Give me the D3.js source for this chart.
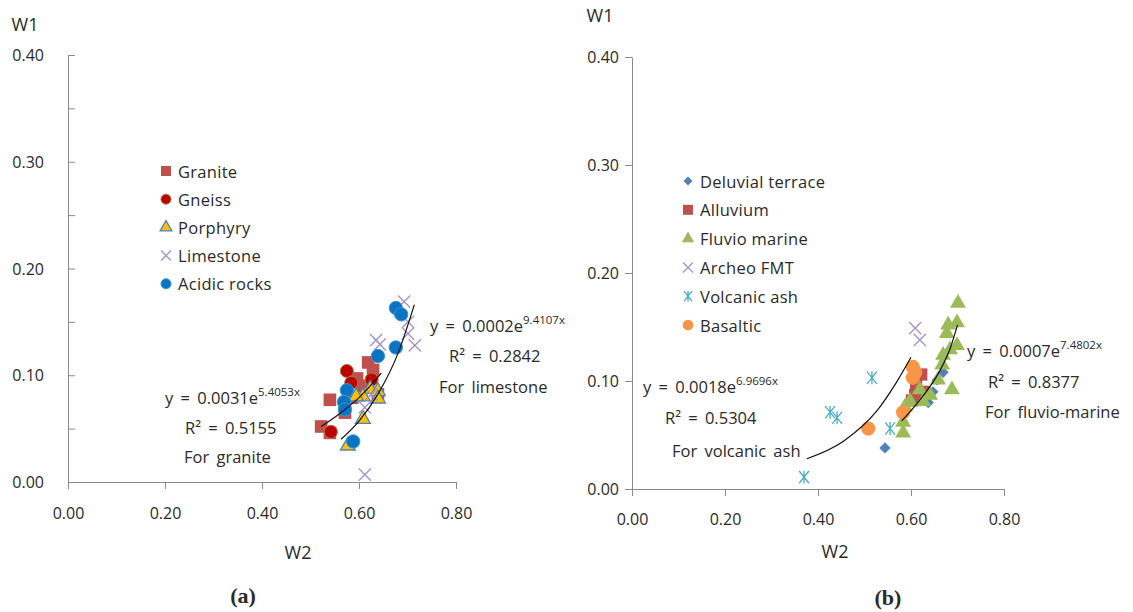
<!DOCTYPE html>
<html><head><meta charset="utf-8">
<script src="https://cdn.jsdelivr.net/npm/d3@7"></script>
<style>
body{margin:0;background:#fff}
text{font-family:"Open Sans",sans-serif;fill:#2a2a2a}
</style>
</head><body><svg id="c" width="1133" height="612"></svg>
<script>
// ---------- Panel (a) data ----------
const graniteData   = [[0.540,0.077],[0.522,0.052],[0.540,0.046],[0.596,0.097],[0.619,0.112],[0.629,0.105],[0.639,0.082],[0.571,0.065],[0.586,0.079],[0.605,0.090]];
const gneissData    = [[0.575,0.104],[0.584,0.093],[0.626,0.096],[0.542,0.047]];
const porphyryData  = [[0.623,0.087],[0.608,0.080],[0.639,0.085],[0.639,0.078],[0.608,0.059],[0.577,0.034],[0.594,0.080]];
const limestoneData = [[0.693,0.169],[0.701,0.150],[0.635,0.133],[0.643,0.129],[0.715,0.128],[0.701,0.139],[0.612,0.007],[0.612,0.070],[0.625,0.082]];
const acidicData    = [[0.676,0.163],[0.687,0.157],[0.676,0.126],[0.639,0.118],[0.575,0.086],[0.569,0.075],[0.571,0.068],[0.588,0.038]];
const graniteFit    = [[0.522,0.052],[0.56,0.064],[0.60,0.079],[0.646,0.102]];
const limestoneFit  = [[0.563,0.040],[0.60,0.057],[0.64,0.083],[0.68,0.120],[0.714,0.166]];

// ---------- Panel (b) data ----------
const deluvialData  = [[0.669,0.108],[0.656,0.101],[0.647,0.090],[0.637,0.080],[0.544,0.038]];
const alluviumData  = [[0.622,0.106],[0.611,0.096],[0.609,0.087],[0.602,0.082],[0.626,0.090]];
const fluvioData    = [[0.701,0.172],[0.680,0.152],[0.699,0.154],[0.677,0.144],[0.699,0.133],[0.684,0.129],[0.669,0.124],[0.667,0.115],[0.688,0.092],[0.658,0.101],[0.619,0.092],[0.626,0.081],[0.598,0.081],[0.587,0.076],[0.583,0.062],[0.583,0.052],[0.641,0.087]];
const archeoData    = [[0.609,0.149],[0.619,0.138]];
const volcanicData  = [[0.516,0.103],[0.426,0.071],[0.441,0.066],[0.555,0.056],[0.370,0.011]];
const basalticData  = [[0.604,0.113],[0.604,0.103],[0.609,0.108],[0.583,0.071],[0.508,0.056]];
const volcanicFit   = [[0.376,0.028],[0.454,0.044],[0.526,0.072],[0.569,0.099],[0.60,0.122]];
const fluvioFit     = [[0.58,0.063],[0.62,0.083],[0.66,0.108],[0.685,0.131],[0.70,0.152]];

// ---------- labels ----------
const xTicks = [0, 0.2, 0.4, 0.6, 0.8];
const yTicks = [0, 0.1, 0.2, 0.3, 0.4];
const legendA = ["Granite","Gneiss","Porphyry","Limestone","Acidic rocks"];
const legendB = ["Deluvial terrace","Alluvium","Fluvio marine","Archeo FMT","Volcanic ash","Basaltic"];
const eqA = [{base:"y = 0.0031e", exp:"5.4053x", r2:"R² = 0.5155", label:"For granite"},
             {base:"y = 0.0002e", exp:"9.4107x", r2:"R² = 0.2842", label:"For limestone"}];
const eqB = [{base:"y = 0.0018e", exp:"6.9696x", r2:"R² = 0.5304", label:"For volcanic ash"},
             {base:"y = 0.0007e", exp:"7.4802x", r2:"R² = 0.8377", label:"For fluvio-marine"}];

const svg = d3.select("#c");
const fmt = d3.format(".2f");

const symX = {draw(ctx,size){const r=Math.sqrt(size)/2;ctx.moveTo(-r,-r);ctx.lineTo(r,r);ctx.moveTo(r,-r);ctx.lineTo(-r,r);}};
const symStar = {draw(ctx,size){const r=Math.sqrt(size)/2;ctx.moveTo(-r*0.8,-r);ctx.lineTo(r*0.8,r);ctx.moveTo(r*0.8,-r);ctx.lineTo(-r*0.8,r);ctx.moveTo(0,-r*1.05);ctx.lineTo(0,r*1.05);}};
const symDiamond = {draw(ctx,size){const r=Math.sqrt(size)/2*1.35;ctx.moveTo(0,-r);ctx.lineTo(r,0);ctx.lineTo(0,r);ctx.lineTo(-r,0);ctx.closePath();}};

const stylesA = [
  {type:d3.symbolSquare, size:160, lsize:100, fill:"#C0504D", stroke:"#C0504D", sw:0},
  {type:d3.symbolCircle, size:135, lsize:80, fill:"#C00000", stroke:"#8E8A4A", sw:1},
  {type:d3.symbolTriangle, size:95, lsize:60, fill:"#FFC000", stroke:"#4F81BD", sw:1.3},
  {type:symX, size:150, lsize:100, fill:"none", stroke:"#A895C8", sw:1.4},
  {type:d3.symbolCircle, size:140, lsize:80, fill:"#0A74C2", stroke:"#3A97D6", sw:1}
];
const stylesB = [
  {type:symDiamond, size:70, lsize:45, fill:"#4F81BD", stroke:"#4F81BD", sw:0},
  {type:d3.symbolSquare, size:150, lsize:100, fill:"#C0504D", stroke:"#C0504D", sw:0},
  {type:d3.symbolTriangle, size:110, lsize:65, fill:"#9BBB59", stroke:"#9BBB59", sw:0},
  {type:symX, size:150, lsize:100, fill:"none", stroke:"#A895C8", sw:1.4},
  {type:symStar, size:150, lsize:100, fill:"none", stroke:"#4BACC6", sw:1.3},
  {type:d3.symbolCircle, size:160, lsize:90, fill:"#F79646", stroke:"#F79646", sw:0}
];

function panel(cfg){
  const g = svg.append("g");
  const x = d3.scaleLinear().domain([0,0.8]).range(cfg.xr);
  const y = d3.scaleLinear().domain([0,0.4]).range(cfg.yr);
  const xa = g.append("g").attr("transform",`translate(0,${cfg.yr[0]})`)
    .call(d3.axisBottom(x).tickValues(xTicks).tickFormat(fmt).tickSize(7).tickSizeOuter(0));
  xa.select(".domain").attr("stroke","#8a8a8a");
  xa.selectAll(".tick line").attr("stroke","#8a8a8a");
  xa.selectAll(".tick text").attr("dy",null).attr("y",cfg.xLabY).attr("dominant-baseline","central")
    .style("font-size","16px").style("font-family","Open Sans").attr("fill","#2a2a2a");
  const ya = g.append("g").attr("transform",`translate(${cfg.xr[0]},0)`)
    .call(cfg.yInner ? d3.axisRight(y).tickValues(cfg.yTickVals).tickSize(7).tickSizeOuter(0)
                     : d3.axisLeft(y).tickValues(cfg.yTickVals).tickSize(7).tickSizeOuter(0));
  ya.select(".domain").attr("stroke","#8a8a8a");
  ya.selectAll(".tick line").attr("stroke","#8a8a8a");
  ya.selectAll(".tick text").remove();
  g.selectAll(".ylab").data(yTicks).join("text").attr("class","ylab")
    .attr("x",cfg.yLabX).attr("y",d=>y(d)).attr("text-anchor","end").attr("dominant-baseline","central")
    .style("font-size","16px").text(fmt);
  g.append("text").attr("x",cfg.w1[0]).attr("y",cfg.w1[1]).attr("text-anchor","middle").attr("dominant-baseline","central").style("font-size","18px").text("W1");
  g.append("text").attr("x",cfg.w2[0]).attr("y",cfg.w2[1]).attr("text-anchor","middle").attr("dominant-baseline","central").style("font-size","18px").text("W2");
  g.append("text").attr("x",cfg.tag[0]).attr("y",cfg.tag[1]).attr("text-anchor","middle").attr("dominant-baseline","central")
    .style("font-family","'Liberation Serif','Times New Roman',serif").style("font-weight","bold").style("font-size","22px").attr("fill","#000").text(cfg.tagText);
  cfg.series.forEach((s,i)=>{
    const st = cfg.styles[i];
    g.append("g").selectAll("path").data(s).join("path")
      .attr("transform",d=>`translate(${x(d[0])},${y(d[1])})`)
      .attr("d",d3.symbol(st.type,st.size))
      .attr("fill",st.fill).attr("stroke",st.stroke).attr("stroke-width",st.sw);
  });
  const line = d3.line().x(d=>x(d[0])).y(d=>y(d[1])).curve(d3.curveMonotoneX);
  cfg.fits.forEach(f=>{
    g.append("path").attr("d",line(f)).attr("fill","none").attr("stroke","#111").attr("stroke-width",1.2);
  });
  const lg = g.append("g");
  if(cfg.legClip){
    svg.append("clipPath").attr("id","clipA").append("rect").attr("x",150).attr("y",150).attr("width",cfg.legClip-150).attr("height",160);
    lg.attr("clip-path","url(#clipA)");
  }
  cfg.legend.forEach((name,i)=>{
    const st = cfg.styles[i];
    const yy = cfg.legY + i*cfg.legStep;
    lg.append("path").attr("transform",`translate(${cfg.legX},${yy})`).attr("d",d3.symbol(st.type,st.lsize))
      .attr("fill",st.fill).attr("stroke",st.stroke).attr("stroke-width",st.sw);
    lg.append("text").attr("x",cfg.legX+12).attr("y",yy).attr("dominant-baseline","central")
      .style("font-size","16.5px").style("letter-spacing","0.3px").text(name);
  });
  cfg.eqs.forEach((e,i)=>{
    const p = cfg.eqPos[i];
    const t = g.append("text").attr("x",p[0][0]).attr("y",p[0][1]).attr("dominant-baseline","central").style("font-size","16.5px").style("word-spacing","3px");
    t.append("tspan").text(e.base);
    t.append("tspan").attr("dy",-6).style("font-size","11.5px").text(e.exp);
    g.append("text").attr("x",p[1][0]).attr("y",p[1][1]).attr("dominant-baseline","central").style("font-size","16.5px").style("word-spacing","3px").text(e.r2);
    g.append("text").attr("x",p[2][0]).attr("y",p[2][1]).attr("dominant-baseline","central").style("font-size","16.5px").style("word-spacing","3px").text(e.label);
  });
}

panel({
  xr:[68,456], yr:[482,55], yInner:true, yTickVals:[0.05,0.1,0.15,0.2,0.25,0.3,0.35,0.4],
  yLabX:44, xLabY:31, w1:[25,24], w2:[298,552], tag:[243,595], tagText:"(a)",
  series:[graniteData,gneissData,porphyryData,limestoneData,acidicData], styles:stylesA,
  fits:[graniteFit,limestoneFit],
  legend:legendA, legX:166, legY:171, legStep:28.2, legClip:272,
  eqs:eqA, eqPos:[[[165,397],[185,427],[184,456]],[[430,325],[449,355],[439,386]]]
});
panel({
  xr:[632,1004], yr:[489,57], yInner:false, yTickVals:yTicks,
  yLabX:619, xLabY:30, w1:[600,15], w2:[835,551], tag:[888,597], tagText:"(b)",
  series:[deluvialData,alluviumData,fluvioData,archeoData,volcanicData,basalticData], styles:stylesB,
  fits:[volcanicFit,fluvioFit],
  legend:legendB, legX:688, legY:181, legStep:28.8, legClip:null,
  eqs:eqB, eqPos:[[[643,386],[665,417],[672,450]],[[967,350],[988,381],[985,411]]]
});
</script></body></html>
